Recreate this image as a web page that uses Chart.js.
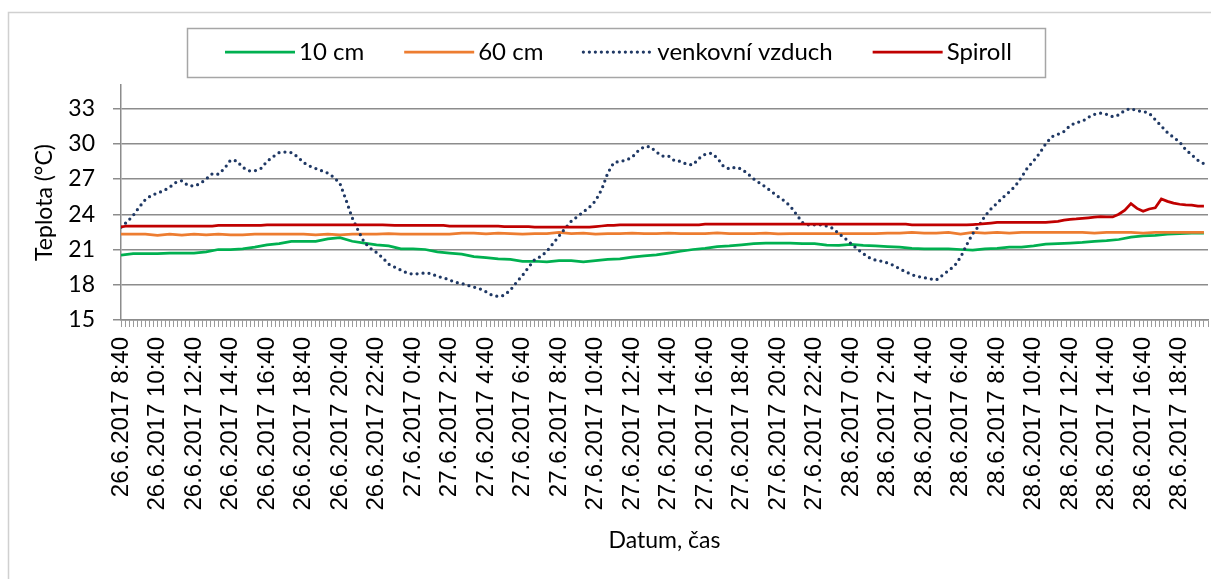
<!DOCTYPE html>
<html>
<head>
<meta charset="utf-8">
<script src="https://cdn.jsdelivr.net/npm/chart.js@4.4.0/dist/chart.umd.min.js"></script>
<style>
  html, body { margin: 0; padding: 0; background: #fff; }
</style>
</head>
<body>
<canvas id="myChart" width="1211" height="579"></canvas>
<script>
// x axis labels, one every 2 hours (every 9th tick)
const tickLabels = [
  '26.6.2017 8:40', '26.6.2017 10:40', '26.6.2017 12:40', '26.6.2017 14:40', '26.6.2017 16:40',
  '26.6.2017 18:40', '26.6.2017 20:40', '26.6.2017 22:40',
  '27.6.2017 0:40', '27.6.2017 2:40', '27.6.2017 4:40', '27.6.2017 6:40', '27.6.2017 8:40',
  '27.6.2017 10:40', '27.6.2017 12:40', '27.6.2017 14:40', '27.6.2017 16:40', '27.6.2017 18:40',
  '27.6.2017 20:40', '27.6.2017 22:40',
  '28.6.2017 0:40', '28.6.2017 2:40', '28.6.2017 4:40', '28.6.2017 6:40', '28.6.2017 8:40',
  '28.6.2017 10:40', '28.6.2017 12:40', '28.6.2017 14:40', '28.6.2017 16:40', '28.6.2017 18:40'
];
const yTicks = [15, 18, 21, 24, 27, 30, 33];

// 10 cm and 60 cm: one value every 40 minutes from 26.6. 8:40
const cm10 = [
  20.52, 20.65, 20.65, 20.65, 20.7, 20.7, 20.7, 20.8, 21.0, 21.0,
  21.05, 21.2, 21.4, 21.5, 21.7, 21.7, 21.7, 21.9, 22.0, 21.7,
  21.55, 21.4, 21.3, 21.05, 21.05, 21.0, 20.8, 20.7, 20.6, 20.4,
  20.3, 20.2, 20.15, 20.0, 20.0, 19.95, 20.05, 20.05, 19.95, 20.05,
  20.15, 20.2, 20.35, 20.45, 20.55, 20.7, 20.85, 21.0, 21.1, 21.25,
  21.3, 21.4, 21.5, 21.55, 21.55, 21.55, 21.5, 21.5, 21.38, 21.35,
  21.43, 21.35, 21.3, 21.25, 21.2, 21.1, 21.05, 21.05, 21.05, 21.0,
  20.95, 21.05, 21.1, 21.2, 21.2, 21.3, 21.45, 21.5, 21.55, 21.6,
  21.7, 21.75, 21.85, 22.05, 22.15, 22.2, 22.3, 22.35, 22.4, 22.4
];
const cm60 = [
  22.3, 22.3, 22.3, 22.2, 22.3, 22.22, 22.3, 22.25, 22.3, 22.25,
  22.25, 22.3, 22.3, 22.3, 22.3, 22.3, 22.25, 22.3, 22.25, 22.3,
  22.3, 22.3, 22.35, 22.3, 22.3, 22.3, 22.3, 22.3, 22.4, 22.4,
  22.32, 22.4, 22.35, 22.3, 22.35, 22.35, 22.45, 22.35, 22.4, 22.3,
  22.35, 22.35, 22.4, 22.35, 22.35, 22.4, 22.35, 22.35, 22.35, 22.42,
  22.35, 22.35, 22.35, 22.4, 22.32, 22.35, 22.35, 22.35, 22.35, 22.35,
  22.35, 22.35, 22.35, 22.4, 22.4, 22.45, 22.4, 22.4, 22.45, 22.3,
  22.45, 22.4, 22.45, 22.4, 22.45, 22.45, 22.45, 22.45, 22.45, 22.45,
  22.4, 22.45, 22.45, 22.45, 22.4, 22.45, 22.45, 22.45, 22.45, 22.45
];

// outdoor air and Spiroll: one value every 20 minutes
const air = [
  22.9, 23.35, 23.9, 24.6, 25.25, 25.6, 25.8, 26.0, 26.3, 26.7,
  26.85, 26.45, 26.4, 26.6, 27.0, 27.45, 27.4, 27.9, 28.6, 28.55,
  28.0, 27.7, 27.7, 27.9, 28.5, 28.9, 29.25, 29.3, 29.25, 28.9,
  28.4, 28.1, 27.9, 27.7, 27.5, 27.15, 26.6, 25.2, 23.7, 22.6,
  21.6, 21.1, 20.75, 20.3, 19.75, 19.5, 19.25, 19.0, 18.9, 18.95,
  19.0, 18.95, 18.7, 18.6, 18.4, 18.2, 18.1, 17.95, 17.8, 17.65,
  17.4, 17.1, 17.0, 17.1, 17.55, 18.2, 18.8, 19.5, 20.15, 20.4,
  20.85, 21.5, 22.15, 22.8, 23.4, 23.8, 24.2, 24.6, 25.15, 26.1,
  27.5, 28.4, 28.5, 28.6, 28.85, 29.4, 29.75, 29.75, 29.3, 28.95,
  28.95, 28.55, 28.5, 28.25, 28.2, 28.75, 29.1, 29.2, 28.8, 28.1,
  27.85, 28.0, 27.85, 27.45, 27.0, 26.65, 26.3, 25.9, 25.5, 25.15,
  24.7, 24.0, 23.3, 23.1, 23.1, 23.1, 23.0, 22.8, 22.35, 21.95,
  21.5, 21.05, 20.65, 20.3, 20.1, 20.0, 19.85, 19.65, 19.35, 19.1,
  18.85, 18.7, 18.6, 18.5, 18.4, 18.8, 19.2, 19.6, 20.35, 21.4,
  22.35, 23.0, 23.85, 24.45, 24.95, 25.45, 25.9, 26.4, 27.15, 27.95,
  28.55, 29.2, 30.0, 30.6, 30.8, 31.05, 31.55, 31.8, 31.9, 32.25,
  32.5, 32.6, 32.5, 32.3, 32.45, 32.85, 33.0, 32.8, 32.75, 32.6,
  32.05, 31.5, 30.95, 30.55, 30.15, 29.5, 29.05, 28.6, 28.3
];
const spiroll = [
  22.92, 23.0, 23.0, 23.0, 23.0, 23.0, 23.0, 23.0, 23.0, 23.0,
  23.0, 23.0, 23.0, 23.0, 23.0, 23.0, 23.05, 23.05, 23.05, 23.05,
  23.05, 23.05, 23.05, 23.05, 23.1, 23.1, 23.1, 23.1, 23.1, 23.1,
  23.1, 23.1, 23.1, 23.1, 23.1, 23.1, 23.1, 23.1, 23.1, 23.1,
  23.1, 23.1, 23.1, 23.1, 23.07, 23.05, 23.05, 23.05, 23.05, 23.05,
  23.05, 23.05, 23.05, 23.05, 23.0, 23.0, 23.0, 22.98, 22.98, 22.98,
  22.98, 22.98, 22.98, 22.95, 22.95, 22.95, 22.95, 22.95, 22.9, 22.9,
  22.9, 22.9, 22.9, 22.9, 22.9, 22.9, 22.9, 22.9, 22.95, 23.0,
  23.05, 23.05, 23.1, 23.1, 23.1, 23.1, 23.1, 23.1, 23.1, 23.1,
  23.1, 23.1, 23.1, 23.1, 23.1, 23.1, 23.15, 23.15, 23.15, 23.15,
  23.15, 23.15, 23.15, 23.15, 23.15, 23.15, 23.15, 23.15, 23.15, 23.15,
  23.15, 23.15, 23.15, 23.15, 23.15, 23.15, 23.15, 23.15, 23.15, 23.15,
  23.15, 23.15, 23.15, 23.15, 23.15, 23.15, 23.15, 23.15, 23.15, 23.15,
  23.1, 23.1, 23.1, 23.1, 23.1, 23.1, 23.1, 23.1, 23.1, 23.1,
  23.12, 23.15, 23.2, 23.25, 23.3, 23.3, 23.3, 23.3, 23.3, 23.3,
  23.3, 23.3, 23.3, 23.35, 23.4, 23.5, 23.57, 23.6, 23.65, 23.7,
  23.75, 23.8, 23.78, 23.77, 24.0, 24.34, 24.9, 24.5, 24.25, 24.45,
  24.55, 25.3, 25.1, 24.95, 24.85, 24.8, 24.78, 24.7, 24.7
];

const TICK_MIN = 40 / 3; // one category every 13 min 20 s
const TICK_COUNT = 268;

const toPoints = (arr, step) => arr.map((v, i) => ({ x: i * step, y: v }));

// white background, outer frame and the boxed legend
const frame = {
  id: 'frame',
  beforeDraw(chart) {
    const ctx = chart.ctx;
    ctx.save();
    ctx.fillStyle = '#fff';
    ctx.fillRect(0, 0, chart.width, chart.height);
    ctx.strokeStyle = '#d0d0d0';
    ctx.lineWidth = 1.5;
    ctx.strokeRect(8.5, 12.5, chart.width + 20, chart.height + 20);
    ctx.restore();
  },
  afterDraw(chart) {
    const ctx = chart.ctx;
    ctx.save();
    ctx.strokeStyle = '#a6a6a6';
    ctx.lineWidth = 1.5;
    ctx.strokeRect(187.5, 28.5, 858, 49);
    ctx.font = '24px Lato';
    ctx.textBaseline = 'middle';
    let x = 225;
    const y = 52;
    chart.data.datasets.forEach(ds => {
      ctx.strokeStyle = ds.borderColor;
      ctx.lineWidth = ds.borderWidth;
      ctx.lineCap = ds.borderCapStyle || 'butt';
      ctx.setLineDash(ds.borderDash || []);
      ctx.beginPath();
      ctx.moveTo(x, y);
      ctx.lineTo(x + 70, y);
      ctx.stroke();
      ctx.setLineDash([]);
      ctx.fillStyle = '#000';
      ctx.fillText(ds.label, x + 74, y);
      x += 74 + ctx.measureText(ds.label).width + 40;
    });
    ctx.restore();
  }
};

new Chart(document.getElementById('myChart'), {
  type: 'line',
  data: {
    datasets: [
      { label: '10 cm', data: toPoints(cm10, 40), borderColor: '#00B050', borderWidth: 2.75, order: 3 },
      { label: '60 cm', data: toPoints(cm60, 40), borderColor: '#ED7D31', borderWidth: 2.75, order: 2 },
      { label: 'venkovní vzduch', data: toPoints(air, 20), borderColor: '#1F3864', borderWidth: 3.25,
        borderDash: [0, 6], borderCapStyle: 'round', order: 1 },
      { label: 'Spiroll', data: toPoints(spiroll, 20), borderColor: '#C00000', borderWidth: 2.75, order: 0 }
    ]
  },
  options: {
    responsive: false,
    animation: false,
    events: [],
    elements: { point: { radius: 0 }, line: { tension: 0 } },
    layout: { padding: { top: 85, left: 0, right: 3, bottom: 0 } },
    plugins: { legend: { display: false }, tooltip: { enabled: false } },
    scales: {
      x: {
        type: 'linear',
        min: 0,
        max: TICK_COUNT * TICK_MIN,
        afterBuildTicks: scale => {
          scale.ticks = [];
          for (let i = 0; i <= TICK_COUNT; i++) scale.ticks.push({ value: i * TICK_MIN });
        },
        afterFit: scale => {
          scale.height = 259;
          scale.paddingLeft = 0;
          scale.paddingRight = 0;
        },
        ticks: {
          autoSkip: false,
          minRotation: 90,
          maxRotation: 90,
          padding: 10,
          color: '#000',
          font: { family: 'Liberation Sans', size: 24 },
          callback: (value, index) => (index % 9 === 0 && tickLabels[index / 9]) ? tickLabels[index / 9] : ''
        },
        grid: { drawOnChartArea: false, drawTicks: true, tickLength: 7, color: '#9a9a9a', lineWidth: 1 },
        border: { color: '#8c8c8c', width: 1.5 },
        title: {
          display: true, text: 'Datum, čas', color: '#000',
          font: { family: 'Lato', size: 23 }, padding: { top: 0, bottom: 25 }
        }
      },
      y: {
        min: 15,
        max: 35,
        afterBuildTicks: scale => { scale.ticks = yTicks.map(v => ({ value: v })); },
        afterFit: scale => {
          scale.width = 121;
          scale.paddingTop = 0;
          scale.paddingBottom = 0;
        },
        ticks: { padding: 18, color: '#000', font: { family: 'Lato', size: 23 } },
        grid: { color: '#8c8c8c', lineWidth: 1.5, tickLength: 8 },
        border: { color: '#8c8c8c', width: 1.5 },
        title: {
          display: true, text: 'Teplota (°C)', color: '#000',
          font: { family: 'Lato', size: 23 }, padding: { top: 31, bottom: 0 }
        }
      }
    }
  },
  plugins: [frame]
});
</script>
</body>
</html>
